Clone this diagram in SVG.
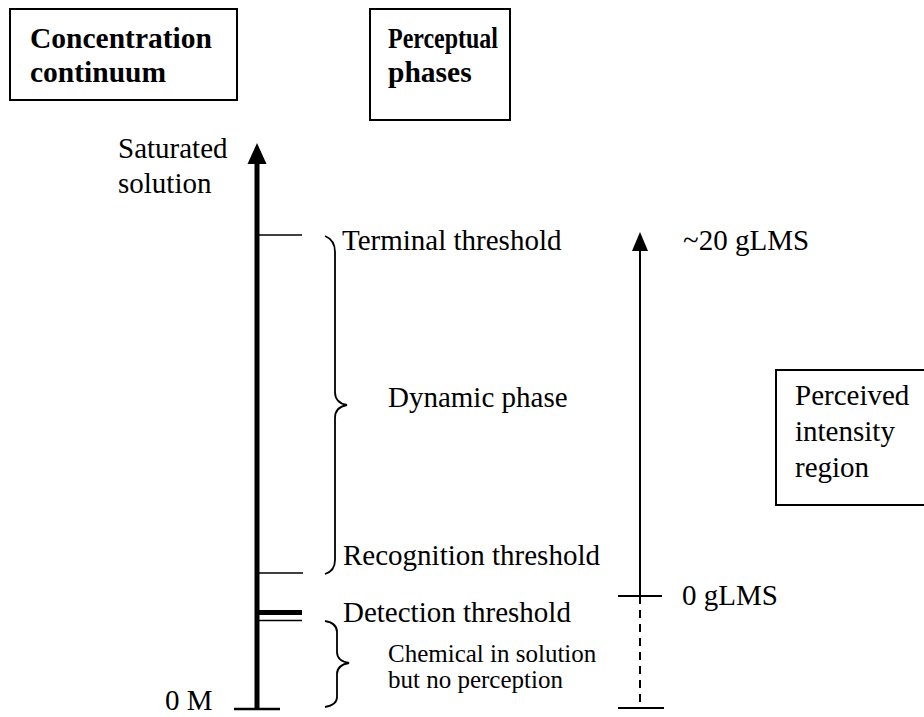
<svg xmlns="http://www.w3.org/2000/svg" width="924" height="717" viewBox="0 0 924 717">
<style>
text{font-family:"Liberation Serif","Times New Roman",serif;fill:#000}
.t{font-size:29px}
.b{font-size:29.5px;font-weight:bold}
.s{font-size:25px}
.box{fill:#fff;stroke:#000;stroke-width:2}
.ln{stroke:#000;fill:none}
</style>
<g id="box-concentration">
<rect class="box" x="10" y="9" width="227" height="91"/>
<text class="b" x="30" y="48">Concentration</text>
<text class="b" x="30" y="82">continuum</text>
</g>
<g id="box-perceptual">
<rect class="box" x="370" y="9" width="140" height="111"/>
<text class="b" x="388" y="48" textLength="110" lengthAdjust="spacingAndGlyphs">Perceptual</text>
<text class="b" x="388" y="82">phases</text>
</g>
<g id="box-perceived">
<rect class="box" x="776" y="370" width="160" height="135"/>
<text class="t" x="795" y="405">Perceived</text>
<text class="t" x="795" y="441">intensity</text>
<text class="t" x="795" y="477">region</text>
</g>
<g id="labels">
<text class="t" x="118" y="158">Saturated</text>
<text class="t" x="118" y="193">solution</text>
<text class="t" x="165" y="710">0 M</text>
<text class="t" x="342" y="250">Terminal threshold</text>
<text class="t" x="388" y="407">Dynamic phase</text>
<text class="t" x="343" y="565">Recognition threshold</text>
<text class="t" x="343" y="622">Detection threshold</text>
<text class="s" x="388" y="662">Chemical in solution</text>
<text class="s" x="388" y="688">but no perception</text>
<text class="t" x="683" y="250">~20 gLMS</text>
<text class="t" x="682" y="605">0 gLMS</text>
</g>
<g id="connectors">
<line class="ln" x1="257" y1="160" x2="257" y2="709" stroke-width="5"/>
<polygon points="257,143 247.5,164 266.5,164" fill="#000"/>
<line class="ln" x1="234" y1="709" x2="280" y2="709" stroke-width="2.5"/>
<line class="ln" x1="257" y1="235" x2="302" y2="235" stroke-width="1.5"/>
<line class="ln" x1="257" y1="573" x2="303" y2="573" stroke-width="1.5"/>
<line class="ln" x1="257" y1="612.5" x2="302" y2="612.5" stroke-width="5"/>
<line class="ln" x1="257" y1="620.5" x2="302" y2="620.5" stroke-width="1.5"/>
<path class="ln" stroke-width="1.8" d="M325,236 Q335,240 335,252 L335,392 Q335,403 347,405 Q335,407 335,418 L335,560 Q335,571 325,574"/>
<path class="ln" stroke-width="1.8" d="M325,621 Q337,623 337,632 L337,652 Q337,661 349,663 Q337,665 337,674 L337,697 Q337,705 325,707"/>
<line class="ln" x1="640" y1="248" x2="640" y2="596" stroke-width="2"/>
<polygon points="640,232 632,251 648,251" fill="#000"/>
<line class="ln" x1="640" y1="596" x2="640" y2="708" stroke-width="2" stroke-dasharray="8,6"/>
<line class="ln" x1="618" y1="596" x2="662" y2="596" stroke-width="2"/>
<line class="ln" x1="618" y1="708" x2="664" y2="708" stroke-width="2"/>
</g>
</svg>
